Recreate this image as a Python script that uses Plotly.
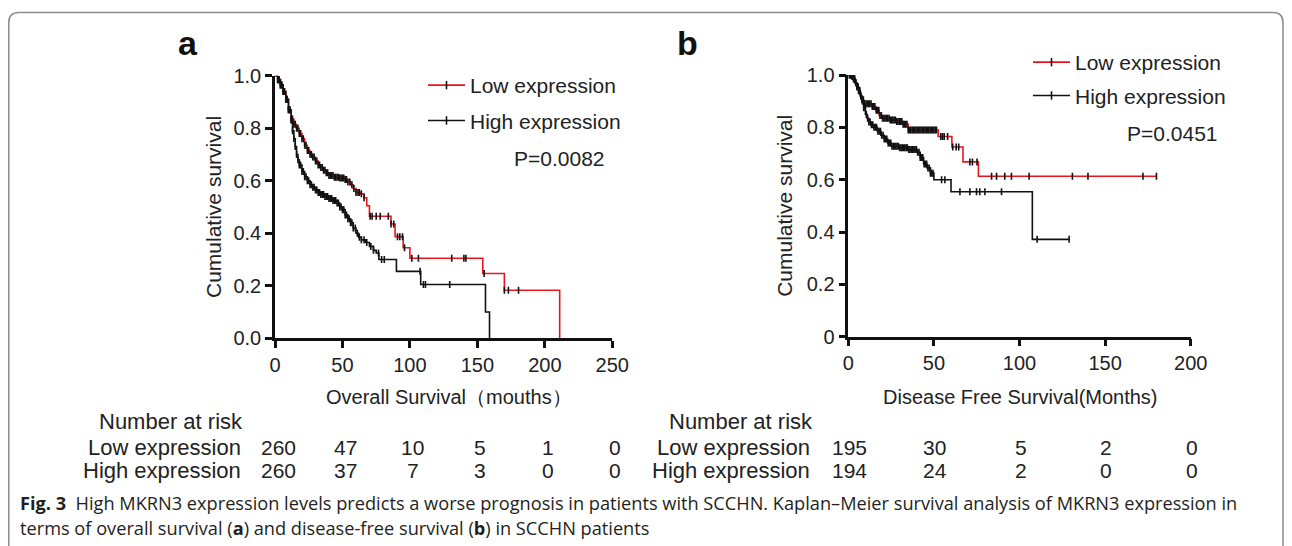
import numpy as np
import plotly.graph_objects as go

# page has an 8px body margin: work in screen pixels and convert
OX, OY = 8, 8
W, H = 1284, 538
def fx(x): return (x - OX) / W
def fy(y): return 1 - (y - OY) / H

# ---------------- Panel a: Overall survival ----------------
os_low_t = [0, 2, 4, 6, 8, 10, 12, 14, 16, 18, 20, 22, 24, 26, 28, 30, 32, 34, 36, 38, 40, 44, 48, 52,
            54, 56, 58, 60, 63, 66, 68, 70, 86, 89, 95, 100, 154, 170, 211, 211]
os_low_s = [1.0, 0.985, 0.965, 0.94, 0.91, 0.87, 0.835, 0.815, 0.80, 0.78, 0.76, 0.735, 0.715, 0.70, 0.69,
            0.675, 0.66, 0.65, 0.64, 0.63, 0.62, 0.613, 0.61, 0.605, 0.595, 0.585, 0.57, 0.555, 0.55, 0.535,
            0.505, 0.465, 0.435, 0.387, 0.345, 0.305, 0.247, 0.183, 0.183, 0.0]
os_high_t = [0, 2, 4, 6, 8, 10, 12, 13, 14, 15, 16, 17, 18, 20, 22, 24, 26, 28, 30, 32, 34, 37, 40, 43,
             46, 48, 50, 52, 54, 56, 58, 60, 62, 64, 67, 70, 73, 75, 77, 90, 108, 156, 159, 159]
os_high_s = [1.0, 0.985, 0.965, 0.94, 0.91, 0.87, 0.83, 0.79, 0.76, 0.73, 0.70, 0.68, 0.66, 0.635, 0.615,
             0.60, 0.585, 0.575, 0.565, 0.555, 0.548, 0.54, 0.532, 0.525, 0.515, 0.50, 0.49, 0.47, 0.455,
             0.44, 0.42, 0.40, 0.385, 0.375, 0.365, 0.35, 0.335, 0.325, 0.30, 0.255, 0.205, 0.10, 0.10, 0.0]
os_low_cens = [2, 3, 4, 5, 6, 7, 8, 9, 10, 11, 12, 13, 14, 15, 16, 17, 18, 19, 20, 21, 22, 23, 24, 25,
               26, 27, 28, 29, 30, 31, 32, 33, 34, 35, 36, 37, 38, 39, 40, 41, 42, 43, 44, 45, 46, 47,
               48, 49, 50, 51, 52, 53, 54, 55.5, 57, 58.5, 60, 61.5, 62.5, 64, 66, 70.5, 72, 75, 78, 84,
               86, 88, 90.8, 92.5, 94.5, 96, 101.4, 106.3, 131, 140, 141.5, 155, 170, 173, 180.5]
os_high_cens = [2, 3, 4, 5, 6, 7, 8, 9, 10, 11, 12, 13, 14, 15, 16, 17, 18, 19, 20, 21, 22, 23, 24, 25,
                26, 27, 28, 29, 30, 31, 32, 33, 34, 35, 36, 37, 38, 39, 40, 41, 42, 43, 44, 45, 46, 47,
                48, 49, 50, 51, 52, 53, 54, 55, 56, 57, 58, 59.5, 61, 62.5, 64, 66, 68, 71, 73, 76.7, 79,
                81, 107.5, 110, 111.5, 129.5]

# ---------------- Panel b: Disease free survival ----------------
dfs_low_t = [0, 2, 3, 4, 5, 6, 7, 8, 9, 14, 16, 18, 20, 24, 28, 32, 35, 52.5, 60.5, 67, 76, 180]
dfs_low_s = [1.0, 0.995, 0.985, 0.97, 0.955, 0.94, 0.92, 0.905, 0.89, 0.88, 0.865, 0.845, 0.835, 0.828,
             0.822, 0.812, 0.79, 0.765, 0.725, 0.668, 0.613, 0.613]
dfs_high_t = [0, 2, 3, 4, 5, 6, 7, 8, 9, 10, 11, 12, 13, 15, 17, 19, 21, 23, 25, 30, 35, 40, 42, 44, 46,
              48, 50, 60, 107.5, 129]
dfs_high_s = [1.0, 0.995, 0.985, 0.97, 0.955, 0.94, 0.92, 0.90, 0.875, 0.85, 0.835, 0.82, 0.81, 0.80,
              0.785, 0.77, 0.755, 0.74, 0.728, 0.722, 0.715, 0.705, 0.685, 0.66, 0.645, 0.625, 0.60,
              0.554, 0.372, 0.372]
dfs_low_cens = [0.5, 1.2, 2, 2.8, 3.5, 4.3, 5, 5.8, 6.5, 7.3, 8, 8.8, 9.5, 10.3, 11, 11.8, 12.5, 13.3,
                14, 14.8, 15.5, 16.3, 17, 17.8, 18.5, 19.3, 20, 20.8, 21.5, 22.3, 23, 23.8, 24.5, 25.3,
                26, 26.8, 27.5, 28.3, 29, 29.8, 30.5, 31.3, 32, 32.8, 33.5, 34.3, 35, 35.8, 36.5, 37.3,
                38, 38.8, 39.5, 40.3, 41, 41.8, 42.5, 43.3, 44, 44.8, 45.5, 46.3, 47, 47.8, 48.5, 49.3,
                50, 50.8, 51.5, 54, 55, 56, 58, 61, 63, 64.5, 71, 72.5, 75.2, 83.7, 86.6, 91.4, 95.3,
                105.6, 130.9, 140, 172.1, 180]
dfs_high_cens = [0.8, 1.5, 2.3, 3, 3.8, 4.5, 5.3, 6, 6.8, 7.5, 8.3, 9, 9.8, 10.5, 11.3, 12, 12.8, 13.5,
                 14.3, 15, 15.8, 16.5, 17.3, 18, 18.8, 19.5, 20.3, 21, 21.8, 22.5, 23.3, 24, 24.8, 25.5,
                 26.3, 27, 27.8, 28.5, 29.3, 30, 30.8, 31.5, 32.3, 33, 33.8, 34.5, 35.3, 36, 36.8, 37.5,
                 38.3, 39, 39.8, 40.5, 41.3, 42, 42.8, 43.5, 44.3, 45, 45.8, 46.5, 47.3, 48, 48.8, 49.5,
                 54.5, 56.4, 65.2, 71, 74.9, 76.8, 79.8, 89.5, 110.3, 129]

# ---------------- Risk tables ----------------
risk_times_a = [0, 50, 100, 150, 200, 250]
risk_low_a = [260, 47, 10, 5, 1, 0]
risk_high_a = [260, 37, 7, 3, 0, 0]
risk_times_b = [0, 50, 100, 150, 200]
risk_low_b = [195, 30, 5, 2, 0]
risk_high_b = [194, 24, 2, 0, 0]

group_names = ["Low expression", "High expression"]
p_a = "P=0.0082"
p_b = "P=0.0451"

RED = "#e8161d"
BLACK = "#111111"
FONT = "Arial, Liberation Sans, sans-serif"

fig = go.Figure()


def add_panel(xa, ya, curves, legend_id):
    for (t, s, cens, color), name in zip(curves, group_names):
        fig.add_trace(go.Scatter(x=t, y=s, mode="lines", line=dict(color=color, width=1.6, shape="hv"),
                                 xaxis=xa, yaxis=ya, showlegend=False, hoverinfo="skip"))
        ts = np.asarray(t, float)
        ss = np.asarray(s, float)
        idx = np.searchsorted(ts, np.asarray(cens, float), side="right") - 1
        cy = ss[idx]
        fig.add_trace(go.Scatter(x=cens, y=cy, mode="markers",
                                 marker=dict(symbol="line-ns", size=5, line=dict(color=BLACK, width=1.6)),
                                 xaxis=xa, yaxis=ya, showlegend=False, hoverinfo="skip"))
    for (t, s, cens, color), name in zip(curves, group_names):
        fig.add_trace(go.Scatter(x=[None], y=[None], mode="lines+markers", name=name,
                                 line=dict(color=color, width=1.6),
                                 marker=dict(symbol="line-ns", size=6, line=dict(color=BLACK, width=1.6)),
                                 xaxis=xa, yaxis=ya, legend=legend_id, legendgroup=legend_id + name,
                                 showlegend=True))


add_panel("x", "y", [(os_low_t, os_low_s, os_low_cens, RED),
                     (os_high_t, os_high_s, os_high_cens, BLACK)], "legend")
add_panel("x2", "y2", [(dfs_low_t, dfs_low_s, dfs_low_cens, RED),
                       (dfs_high_t, dfs_high_s, dfs_high_cens, BLACK)], "legend2")

axis_common = dict(showline=True, linecolor=BLACK, linewidth=2.5, ticks="outside", ticklen=7,
                   tickwidth=2.5, tickcolor=BLACK, showgrid=False, zeroline=False,
                   tickfont=dict(family=FONT, size=20, color="#222"), automargin=False, fixedrange=True)

fig.update_layout(
    width=W, height=H, margin=dict(l=0, r=0, t=0, b=0),
    paper_bgcolor="white", plot_bgcolor="rgba(0,0,0,0)",
    font=dict(family=FONT, color="#222"),
    xaxis=dict(domain=[fx(275), fx(612.3)], range=[0, 250], tickvals=risk_times_a, anchor="y", **axis_common),
    yaxis=dict(domain=[fy(338.3), fy(75.7)], range=[0, 1], tickvals=[0, 0.2, 0.4, 0.6, 0.8, 1.0],
               tickformat=".1f", anchor="x", **axis_common),
    xaxis2=dict(domain=[fx(848.3), fx(1190.7)], range=[0, 200], tickvals=risk_times_b, anchor="y2",
                **axis_common),
    yaxis2=dict(domain=[fy(336.7), fy(75)], range=[0, 1], tickvals=[0, 0.2, 0.4, 0.6, 0.8, 1.0],
                ticktext=["0", "0.2", "0.4", "0.6", "0.8", "1.0"], anchor="x2", **axis_common),
    legend=dict(x=fx(423), y=fy(65), xanchor="left", yanchor="top", bgcolor="rgba(0,0,0,0)",
                font=dict(family=FONT, size=21, color="#222"), tracegroupgap=5, itemwidth=37,
                traceorder="grouped"),
    legend2=dict(x=fx(1028), y=fy(42), xanchor="left", yanchor="top", bgcolor="rgba(0,0,0,0)",
                 font=dict(family=FONT, size=21, color="#222"), tracegroupgap=3, itemwidth=37,
                 traceorder="grouped"),
    showlegend=True,
)

ann = []
def A(text, x, y, size=20, xanchor="center", yanchor="middle", xref="paper", **kw):
    d = dict(text=text, x=x, y=y, xref=xref, yref="paper", showarrow=False, xanchor=xanchor,
             yanchor=yanchor, font=dict(family=kw.pop("family", FONT), size=size, color=kw.pop("color", "#222")))
    d.update(kw)
    ann.append(d)

# panel letters
A("<b>a</b>", fx(188), fy(43), size=34, color="#111")
A("<b>b</b>", fx(687), fy(43), size=34, color="#111")
# p-values
A(p_a, fx(607), fy(158), size=21, xanchor="right")
A(p_b, fx(1220), fy(133), size=21, xanchor="right")
# axis titles
A("Cumulative survival", fx(213), (fy(338.3) + fy(75.7)) / 2, size=21, textangle=-90)
A("Cumulative survival", fx(785), (fy(336.7) + fy(75)) / 2, size=21, textangle=-90)
A("Overall Survival（mouths）", fx(449), fy(397))
A("Disease Free Survival(Months)", fx(1020), fy(397))
# risk tables
A("Number at risk", fx(97), fy(421), size=22, xanchor="left")
A("Number at risk", fx(667), fy(421), size=22, xanchor="left")
for xr, lab_right, times, lows, highs, shift in [("x", 243, risk_times_a, risk_low_a, risk_high_a, 3),
                                                 ("x2", 812, risk_times_b, risk_low_b, risk_high_b, 1)]:
    A(group_names[0], fx(lab_right), fy(447), size=22, xanchor="right")
    A(group_names[1], fx(lab_right), fy(470), size=22, xanchor="right")
    for t, lo, hi in zip(times, lows, highs):
        A(str(lo), t, fy(447), size=21, xref=xr, xshift=shift)
        A(str(hi), t, fy(470), size=21, xref=xr, xshift=shift)

# caption
CAP = "Open Sans, Noto Sans, sans-serif"
A("<b>Fig. 3</b>  High MKRN3 expression levels predicts a worse prognosis in patients with SCCHN. "
  "Kaplan–Meier survival analysis of MKRN3 expression in", fx(18), fy(503), size=18.2, xanchor="left",
  family=CAP, color="#231f20")
A("terms of overall survival (<b>a</b>) and disease-free survival (<b>b</b>) in SCCHN patients",
  fx(18), fy(528), size=18.2, xanchor="left", family=CAP, color="#231f20")

fig.update_layout(annotations=ann)

# figure frame (rounded box)
r = 10
L, T, R = 8.8, 12.5, 1283
path = (f"M {fx(L)},{fy(560)} L {fx(L)},{fy(T + r)} Q {fx(L)},{fy(T)} {fx(L + r)},{fy(T)} "
        f"L {fx(R - r)},{fy(T)} Q {fx(R)},{fy(T)} {fx(R)},{fy(T + r)} L {fx(R)},{fy(560)}")
fig.add_shape(type="path", path=path, xref="paper", yref="paper", line=dict(color="#8a8a8a", width=1.5))

fig.write_html("out.html")
